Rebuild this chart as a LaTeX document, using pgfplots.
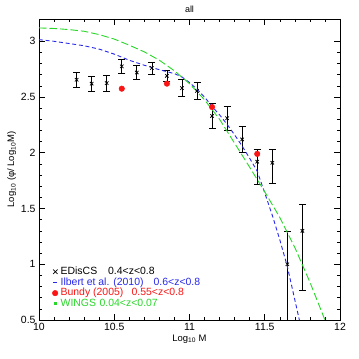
\documentclass[border=0pt]{standalone}
\usepackage{fontspec}
\setmainfont{Liberation Sans}
\usepackage{pgfplots}
\pgfplotsset{compat=1.18}
\usetikzlibrary{calc}
\definecolor{cblue}{RGB}{40,40,235}
\definecolor{cred}{RGB}{250,20,20}
\definecolor{cgreen}{RGB}{40,215,40}

\begin{document}
\begin{tikzpicture}
\begin{axis}[
  name=ax,
  scale only axis,
  width=301bp, height=301bp,
  xmin=10, xmax=12, ymin=0.5, ymax=3.2,
  xtick={10,10.5,11,11.5,12},
  ytick={0.5,1,1.5,2,2.5,3},
  minor x tick num=4, minor y tick num=4,
  tick align=inside,
  major tick length=6bp, minor tick length=3bp,
  axis line style={line width=0.8bp},
  every tick/.style={black, line width=0.6bp},
  /pgf/number format/assume math mode=true,
  ticklabel style={font=\fontsize{10.5}{12}\selectfont},
  xlabel={Log\textsubscript{10} M},
  ylabel={Log\textsubscript{10} (φ/ Log\textsubscript{10}M)},
  label style={font=\fontsize{9.5}{11}\selectfont},
  xlabel style={yshift=3bp},
  ylabel style={yshift=-2bp},
  title={all},
  title style={font=\fontsize{9}{10}\selectfont, inner sep=0pt, yshift=0.5bp},
  legend style={at={(0.043,0.178)}, anchor=north west, draw=none, fill=none,
    inner sep=0pt, row sep=0.5bp, column sep=2bp,
    font=\fontsize{10.5}{11}\selectfont,
    nodes={inner sep=0.5bp, text height=7.2bp, text depth=2bp}},
  legend cell align=left,
]
% EDisCS
\addplot[black, only marks, mark=x, mark size=2.4bp, line width=0.8bp,
  legend image code/.code={\draw[black, line width=0.7bp] (0bp,-2.2bp)--(4.4bp,2.2bp) (0bp,2.2bp)--(4.4bp,-2.2bp);},
  error bars/.cd, y dir=both, y explicit,
  error mark options={rotate=90, mark size=3.5bp, line width=0.7bp},
  error bar style={line width=0.7bp}]
  coordinates {
    (10.25,2.655) +- (0,0.065)
    (10.35,2.62)  +- (0,0.07)
    (10.45,2.625) +- (0,0.07)
    (10.55,2.775) +- (0,0.065)
    (10.65,2.72)  +- (0,0.06)
    (10.75,2.76)  +- (0,0.055)
    (10.85,2.69)  +- (0,0.05)
    (10.95,2.58)  +- (0,0.075)
    (11.05,2.555) +- (0,0.075)
    (11.15,2.33)  +- (0,0.11)
    (11.25,2.31)  +- (0,0.105)
    (11.35,2.12)  +- (0,0.12)
    (11.45,1.92)  += (0,0.11) -= (0,0.205)
    (11.55,1.91)  += (0,0.125) -= (0,0.185)
    (11.65,1.00)  += (0,0.295) -= (0,0.7)
    (11.75,1.30)  += (0,0.235) -= (0,0.53)
  };
\addlegendentry{\makebox[47.5bp][l]{EDisCS}0.4<z<0.8}
% Ilbert et al. (2010)
\addplot[cblue, line width=0.9bp, dash pattern=on 4bp off 2.7bp,
  legend image code/.code={\draw[cblue, line width=0.9bp] (0bp,0bp)--(3.5bp,0bp);}]
  coordinates {
    (10.0,3.015) (10.1,3.00) (10.2,2.98) (10.3,2.96) (10.4,2.93)
    (10.5,2.885) (10.6,2.83) (10.7,2.785) (10.8,2.745) (10.9,2.71)
    (10.95,2.68) (11.0,2.63) (11.05,2.57) (11.1,2.50) (11.15,2.415)
    (11.2,2.34) (11.25,2.255) (11.3,2.16) (11.35,2.06) (11.4,1.95)
    (11.45,1.835) (11.5,1.64) (11.55,1.44) (11.6,1.22) (11.65,0.98)
    (11.7,0.68) (11.73,0.5)
  };
\addlegendentry{\textcolor{cblue}{\makebox[93bp][l]{Ilbert et al. (2010)}0.6<z<0.8}}
% Bundy (2005)
\addplot[cred, only marks, mark=*, mark size=2.8bp,
  legend image code/.code={\fill[cred] (2bp,0bp) circle (2.8bp);}]
  coordinates {
    (10.55,2.575) (10.85,2.62) (11.15,2.41) (11.45,1.99)
  };
\addlegendentry{\textcolor{cred}{\makebox[71bp][l]{Bundy (2005)}0.55<z<0.8}}
% WINGS
\addplot[cgreen, line width=0.9bp, dash pattern=on 7.5bp off 3bp,
  legend image code/.code={\fill[cgreen] (1bp,-1.1bp) rectangle (3.2bp,1.1bp);}]
  coordinates {
    (10.0,3.12) (10.1,3.115) (10.2,3.105) (10.3,3.09) (10.4,3.06)
    (10.5,3.02) (10.6,2.965) (10.7,2.905) (10.8,2.83) (10.9,2.735)
    (11.0,2.62) (11.1,2.475) (11.2,2.30) (11.3,2.085) (11.4,1.87)
    (11.5,1.65) (11.6,1.42) (11.7,1.15) (11.8,0.84) (11.9,0.5)
  };
\addlegendentry{\textcolor{cgreen}{\makebox[39bp][l]{WINGS}0.04<z<0.07}}
\end{axis}
\pgfresetboundingbox
\path ($(ax.south west)+(-39bp,-39bp)$) rectangle ($(ax.north east)+(19bp,19bp)$);
\end{tikzpicture}
\end{document}
